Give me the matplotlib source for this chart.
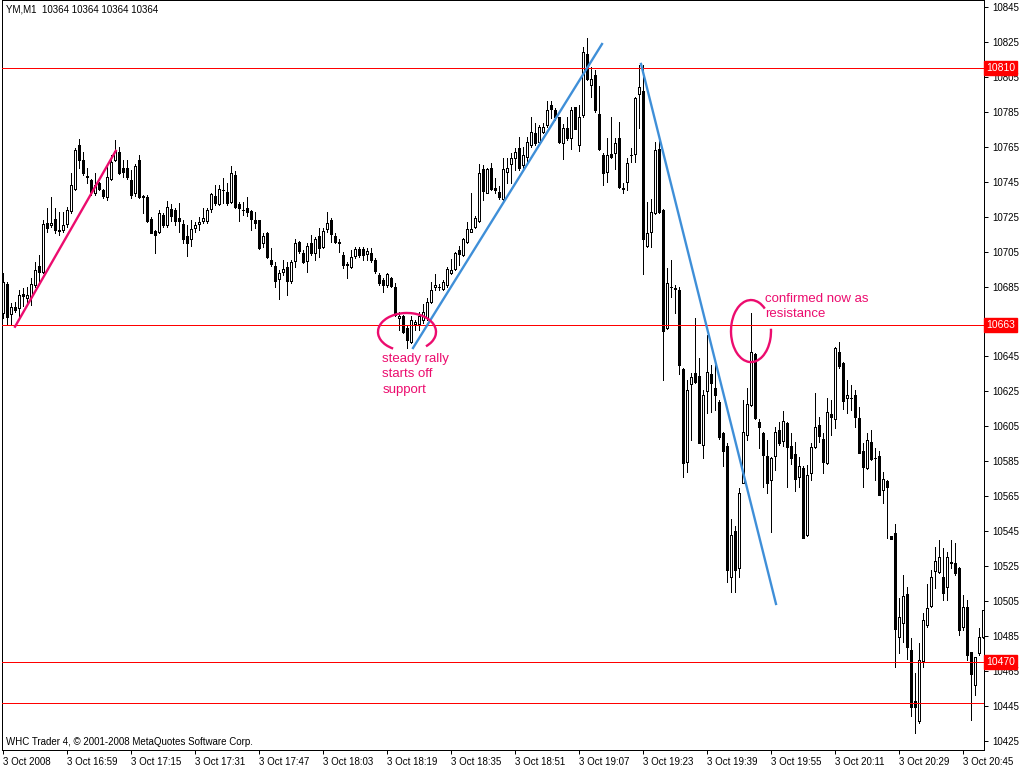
import matplotlib
matplotlib.use("Agg")
import matplotlib.pyplot as plt
from matplotlib.patches import Arc
import numpy as np

# ---------------- data (YM, M1, 3 Oct 2008) ----------------
opens = [10669.6,10686.7,10669.0,10673.0,10672.8,10681.0,10678.7,10679.0,10685.8,10696.7,
10693.4,10721.6,10720.1,10723.9,10717.3,10717.3,10720.5,10728.1,10741.1,10765.9,
10757.7,10748.2,10745.9,10738.6,10744.3,10740.5,10736.0,10746.8,10757.7,10762.1,
10753.0,10752.6,10745.9,10738.6,10757.7,10736.7,10736.3,10723.9,10716.7,10716.3,
10725.8,10720.1,10729.5,10728.8,10724.0,10720.8,10713.9,10712.0,10718.7,10720.6,
10722.5,10722.7,10729.4,10736.8,10732.0,10740.2,10738.9,10733.5,10748.8,10732.0,
10728.8,10729.7,10728.2,10723.1,10723.1,10709.7,10715.4,10700.2,10696.7,10689.3,
10693.5,10696.3,10688.1,10699.8,10710.7,10704.0,10699.8,10709.7,10704.0,10713.9,
10707.8,10717.7,10723.1,10713.9,10710.6,10703.0,10697.7,10696.3,10702.6,10706.2,
10706.2,10703.6,10704.3,10700.1,10691.5,10688.7,10685.8,10689.6,10684.9,10666.7,
10668.1,10661.0,10653.4,10663.5,10663.5,10665.8,10666.7,10676.0,10684.5,10685.0,
10683.4,10685.9,10692.9,10694.8,10706.0,10703.0,10710.7,10716.4,10718.9,10722.7,
10752.1,10738.7,10752.7,10741.2,10739.3,10734.9,10750.8,10755.0,10758.3,10764.0,
10754.5,10759.3,10766.0,10772.6,10767.9,10773.6,10777.4,10788.9,10786.0,10781.8,
10767.0,10775.5,10769.8,10787.5,10766.0,10783.1,10818.1,10800.3,10806.0,10783.8,
10760.3,10750.8,10760.9,10761.6,10769.8,10741.2,10745.0,10760.3,10760.9,10795.2,
10797.1,10708.2,10716.4,10726.9,10763.5,10728.8,10661.1,10684.5,10684.0,10683.0,
10637.6,10584.7,10629.2,10635.7,10633.7,10594.2,10625.3,10634.9,10626.7,10619.0,
10600.9,10593.7,10518.5,10545.2,10523.7,10572.7,10600.0,10617.1,10646.3,10607.6,
10600.9,10588.0,10574.2,10588.0,10602.9,10596.8,10606.7,10593.7,10589.1,10575.8,
10580.9,10542.8,10578.4,10593.3,10605.7,10597.5,10583.8,10612.0,10609.0,10647.7,
10641.0,10621.4,10621.4,10622.9,10609.5,10591.0,10580.9,10596.2,10586.6,10588.0,
10568.5,10573.9,10542.2,10543.7,10484.6,10492.6,10509.0,10476.9,10447.9,10436.5,
10470.8,10491.2,10502.1,10522.3,10521.8,10518.9,10513.2,10527.5,10526.5,10523.7,
10489.9,10501.3,10476.0,10456.9,10475.0,10484.2]

highs = [10692.5,10687.7,10675.7,10675.9,10682.9,10683.9,10684.8,10689.6,10699.1,10703.0,
10723.0,10729.7,10736.3,10729.7,10727.8,10727.8,10730.6,10749.7,10764.0,10769.7,
10762.0,10752.6,10746.8,10749.7,10744.9,10741.1,10753.5,10760.2,10768.8,10765.0,
10757.3,10757.7,10751.6,10755.4,10760.2,10737.3,10737.3,10724.9,10717.3,10728.7,
10726.8,10734.0,10732.0,10729.7,10732.6,10723.1,10720.2,10723.1,10722.1,10724.6,
10729.7,10729.7,10738.3,10743.1,10743.1,10746.9,10744.0,10754.0,10751.1,10733.5,
10733.5,10736.0,10728.8,10727.8,10723.1,10715.4,10716.4,10706.8,10699.2,10694.4,
10700.2,10699.2,10700.2,10712.0,10711.2,10705.9,10709.7,10714.5,10713.5,10718.3,
10718.3,10727.8,10724.0,10715.4,10712.0,10704.9,10699.2,10705.9,10707.8,10707.8,
10707.8,10706.8,10706.8,10701.1,10692.9,10689.6,10692.9,10690.6,10686.8,10670.6,
10668.6,10662.9,10668.1,10665.8,10670.6,10674.9,10678.2,10687.8,10692.0,10686.5,
10688.7,10696.4,10700.6,10705.0,10708.2,10712.6,10722.1,10738.3,10725.4,10755.1,
10754.6,10752.7,10755.9,10746.9,10742.5,10758.4,10758.4,10761.2,10764.0,10770.7,
10765.0,10770.7,10781.8,10778.4,10777.4,10778.4,10791.3,10791.3,10787.0,10781.8,
10778.0,10781.8,10787.9,10787.9,10788.9,10822.3,10827.0,10810.8,10808.9,10799.8,
10761.2,10769.8,10782.3,10769.8,10779.4,10744.1,10758.4,10764.1,10793.7,10811.8,
10811.8,10733.6,10735.0,10767.9,10769.8,10729.2,10695.4,10700.2,10685.9,10684.5,
10638.5,10631.5,10635.3,10667.0,10643.9,10625.7,10657.2,10640.0,10641.9,10620.0,
10601.9,10595.2,10551.7,10547.9,10569.4,10620.0,10626.7,10669.8,10647.1,10609.0,
10601.9,10597.0,10587.6,10604.8,10607.6,10613.9,10607.6,10601.0,10596.2,10587.2,
10582.3,10582.8,10595.2,10624.2,10610.1,10601.3,10621.0,10620.0,10650.6,10653.4,
10642.0,10631.5,10628.6,10625.8,10616.2,10595.2,10601.0,10602.9,10592.4,10591.0,
10579.0,10574.2,10542.2,10549.0,10506.5,10519.9,10513.2,10483.6,10463.6,10480.8,
10497.9,10514.7,10522.7,10536.1,10539.9,10535.1,10533.2,10539.9,10538.0,10524.6,
10508.4,10505.5,10476.0,10473.1,10489.3,10500.0]

lows = [10666.7,10663.8,10663.8,10670.5,10667.6,10673.8,10674.3,10674.3,10684.8,10687.7,
10692.5,10716.3,10719.2,10715.4,10714.4,10716.3,10719.2,10726.8,10740.2,10752.6,
10748.7,10744.0,10737.3,10737.3,10740.2,10735.4,10734.4,10745.9,10757.0,10749.3,
10747.8,10746.8,10735.4,10736.7,10735.4,10726.8,10722.0,10715.4,10703.9,10715.4,
10719.2,10719.2,10722.5,10720.2,10716.4,10709.7,10702.4,10708.2,10716.4,10717.3,
10721.1,10721.5,10727.8,10731.6,10731.6,10732.6,10731.6,10732.6,10729.7,10722.7,
10725.9,10725.3,10717.3,10718.3,10706.3,10707.8,10701.1,10696.7,10684.5,10677.6,
10691.6,10680.1,10687.2,10696.3,10704.4,10698.2,10693.5,10703.0,10700.2,10702.1,
10706.8,10716.4,10710.7,10710.1,10704.9,10695.4,10689.6,10695.4,10701.1,10702.0,
10700.1,10700.1,10699.2,10692.5,10685.8,10682.0,10684.9,10684.9,10668.1,10660.1,
10658.2,10649.6,10652.4,10660.1,10660.1,10663.9,10665.8,10675.4,10683.0,10683.0,
10683.0,10684.9,10692.2,10694.5,10697.3,10702.5,10710.1,10716.4,10718.3,10722.1,
10734.5,10738.3,10740.3,10738.3,10734.9,10734.5,10744.5,10744.1,10751.6,10751.7,
10751.7,10756.4,10765.0,10766.0,10766.9,10772.7,10776.5,10781.2,10780.3,10767.0,
10757.8,10768.8,10763.5,10774.9,10762.7,10781.8,10803.2,10793.6,10785.0,10763.2,
10743.1,10745.0,10758.4,10752.1,10741.2,10738.7,10740.3,10756.5,10756.5,10775.6,
10692.2,10707.8,10707.8,10726.5,10727.3,10631.5,10660.5,10679.2,10669.7,10634.9,
10576.1,10579.0,10597.1,10629.5,10595.2,10586.6,10612.8,10613.3,10614.3,10598.0,
10582.2,10516.0,10510.3,10510.3,10518.5,10572.3,10597.1,10616.6,10609.0,10592.3,
10570.4,10566.6,10544.7,10580.0,10594.3,10593.7,10570.4,10583.4,10568.1,10570.4,
10540.8,10542.2,10574.2,10592.4,10596.2,10578.4,10583.4,10600.0,10603.8,10638.2,
10614.7,10612.4,10614.3,10604.8,10589.5,10570.0,10580.3,10585.7,10574.2,10565.7,
10560.9,10540.8,10540.6,10467.4,10475.0,10481.7,10471.6,10439.2,10429.6,10435.4,
10467.4,10490.3,10501.4,10512.2,10520.8,10505.5,10505.5,10523.7,10519.9,10485.5,
10488.4,10471.2,10436.8,10451.2,10474.1,10484.0]

closes = [10687.7,10667.6,10673.4,10671.5,10680.0,10679.7,10680.0,10686.7,10694.7,10693.4,
10720.5,10718.6,10721.6,10717.3,10716.9,10720.1,10728.7,10743.0,10763.0,10757.7,
10749.7,10747.7,10739.2,10743.0,10741.1,10736.7,10747.8,10756.4,10762.7,10749.7,
10750.7,10747.8,10737.3,10753.9,10736.3,10736.0,10722.6,10715.7,10714.4,10727.2,
10720.1,10730.6,10725.5,10722.7,10722.7,10712.2,10709.7,10717.7,10720.2,10721.9,
10724.0,10728.8,10737.8,10732.6,10740.6,10740.2,10732.6,10749.8,10730.7,10729.7,
10728.8,10727.8,10723.4,10721.5,10706.8,10713.9,10701.7,10697.7,10688.3,10692.6,
10694.8,10688.3,10698.8,10709.7,10705.5,10698.8,10708.2,10704.4,10712.0,10706.8,
10716.8,10721.5,10714.8,10710.7,10709.7,10697.3,10697.5,10702.0,10706.2,10703.0,
10703.0,10705.5,10700.1,10694.0,10686.8,10685.8,10691.9,10685.2,10668.6,10668.1,
10659.1,10654.3,10665.8,10664.8,10668.1,10670.6,10676.3,10683.0,10685.9,10685.0,
10687.8,10694.8,10694.5,10704.0,10703.6,10712.0,10717.7,10717.7,10724.1,10749.8,
10739.9,10752.1,10740.6,10740.3,10736.1,10752.1,10752.7,10758.4,10762.2,10752.6,
10760.3,10767.9,10773.6,10766.9,10776.5,10776.5,10786.0,10786.4,10781.8,10767.9,
10775.5,10769.8,10786.0,10775.0,10781.8,10819.4,10803.6,10803.6,10786.0,10763.5,
10749.8,10760.3,10759.0,10767.4,10741.8,10741.0,10755.9,10760.3,10792.7,10799.0,
10712.0,10715.8,10727.9,10763.2,10727.9,10659.7,10686.8,10684.5,10683.4,10640.1,
10583.8,10625.7,10633.4,10630.5,10595.6,10622.9,10636.2,10629.5,10622.9,10598.6,
10591.0,10522.7,10542.7,10522.7,10566.6,10601.9,10617.7,10647.7,10609.5,10604.7,
10588.5,10572.7,10586.6,10601.9,10595.6,10608.2,10593.0,10586.6,10574.6,10582.3,
10541.0,10577.1,10592.9,10604.8,10599.4,10584.7,10613.4,10610.1,10649.6,10639.5,
10619.6,10622.9,10621.4,10610.5,10589.9,10581.9,10597.1,10586.1,10586.6,10565.7,
10574.6,10570.0,10540.6,10488.8,10495.6,10507.8,10478.8,10444.5,10444.5,10471.2,
10494.1,10500.8,10518.5,10528.1,10530.3,10509.4,10530.3,10526.5,10520.8,10488.4,
10501.7,10474.1,10463.2,10473.1,10484.5,10499.8]

time_labels = ["3 Oct 2008", "3 Oct 16:59", "3 Oct 17:15", "3 Oct 17:31", "3 Oct 17:47",
               "3 Oct 18:03", "3 Oct 18:19", "3 Oct 18:35", "3 Oct 18:51", "3 Oct 19:07",
               "3 Oct 19:23", "3 Oct 19:39", "3 Oct 19:55", "3 Oct 20:11", "3 Oct 20:29",
               "3 Oct 20:45"]
label_step = 16

price_ticks = list(range(10425, 10846, 20))
hlines = [10810, 10663, 10470, 10446.5]
hline_labels = {10810: "10810", 10663: "10663", 10470: "10470"}
hidden_ticks = [10665]   # covered by the 10663 marker in the original

# trend lines: (bar index, price) pairs
pink_trend = ([3, 28.2], [10662, 10762.7])
blue_trend1 = ([102.5, 149.75], [10649.8, 10823.8])
blue_trend2 = ([159.5, 193.25], [10812.4, 10503.3])

header = "YM,M1  10364 10364 10364 10364"
footer = "WHC Trader 4, \u00a9 2001-2008 MetaQuotes Software Corp."

PINK = "#ec0c6e"
BLUE = "#3f8fd8"
FONT = "Liberation Sans"
PX = 0.72  # one pixel in points at 100 dpi

# ---------------- figure ----------------
fig = plt.figure(figsize=(10.24, 7.68), dpi=100)
fig.patch.set_facecolor("white")
ax = fig.add_axes([1.5 / 1024, 18 / 768, (984 - 1.5) / 1024, 750 / 768])
ax.set_facecolor("white")

n = len(opens)
xs = np.arange(n)
o = np.array(opens); h = np.array(highs); l = np.array(lows); c = np.array(closes)

ax.vlines(xs, l, h, color="black", linewidth=PX, zorder=2, antialiased=False)
up = c >= o
body_bottom = np.minimum(o, c)
body_h = np.abs(c - o)
ax.bar(xs[up], body_h[up], bottom=body_bottom[up], width=0.5, facecolor="white",
       edgecolor="black", linewidth=PX, zorder=3, antialiased=False)
ax.bar(xs[~up], body_h[~up], bottom=body_bottom[~up], width=0.5, facecolor="black",
       edgecolor="black", linewidth=PX, zorder=3, antialiased=False)

for y in hlines:
    ax.axhline(y, color="#ff0000", linewidth=PX, zorder=4)

ax.plot(*pink_trend, color=PINK, linewidth=1.7, zorder=5)
ax.plot(*blue_trend1, color=BLUE, linewidth=1.7, zorder=5)
ax.plot(*blue_trend2, color=BLUE, linewidth=1.7, zorder=5)

# ellipses
ax.add_patch(Arc((101, 10659), 14.5, 21.7, theta1=-60, theta2=250,
                 color=PINK, linewidth=1.7, zorder=6))
ax.add_patch(Arc((187, 10659.5), 10, 35.5, theta1=75, theta2=375,
                 color=PINK, linewidth=1.7, zorder=6))

ax.text(94.8, 10647, "steady rally\nstarts off\nsupport", color=PINK, fontsize=9.5,
        family=FONT, va="top", ha="left", linespacing=1.38, zorder=7)
ax.text(190.5, 10681.5, "confirmed now as\nresistance", color=PINK, fontsize=9.5,
        family=FONT, va="top", ha="left", linespacing=1.38, zorder=7)

# axes limits (pixel-aligned)
ax.set_xlim(-0.375, 245.25)
ax.set_ylim(10849.0 - 0.5724 * 750, 10849.0)

for s in ["left", "right", "bottom", "top"]:
    ax.spines[s].set_color("black")
    ax.spines[s].set_linewidth(PX)

ax.yaxis.tick_right()
ax.set_yticks(price_ticks)
ax.set_yticklabels(["" if t in hidden_ticks else str(t) for t in price_ticks],
                   fontsize=7, family=FONT)
ax.tick_params(axis="y", direction="out", length=3, pad=3, width=PX, colors="black")

ax.set_xticks(np.arange(len(time_labels)) * label_step)
ax.set_xticklabels(time_labels, fontsize=7, family=FONT, ha="left")
ax.tick_params(axis="x", direction="out", length=3, pad=2, width=PX, colors="black")

# red price labels on the right axis
for y, txt in hline_labels.items():
    ax.annotate(txt, xy=(1.0, y), xycoords=("axes fraction", "data"),
                xytext=(1.5, 0), textcoords="offset points", va="center", ha="left",
                fontsize=7.5, family=FONT, color="white", zorder=10,
                bbox=dict(boxstyle="square,pad=0.2", fc="#ff0000", ec="#ff0000"),
                annotation_clip=False)

fig.text(6 / 1024, 1 - 10 / 768, header, fontsize=7, family=FONT, va="center", ha="left")
ax.text(4.5 / 982.5, 1 - 742 / 750, footer, transform=ax.transAxes, fontsize=7,
        family=FONT, va="center", ha="left")

fig.savefig("out.png", dpi=100)
